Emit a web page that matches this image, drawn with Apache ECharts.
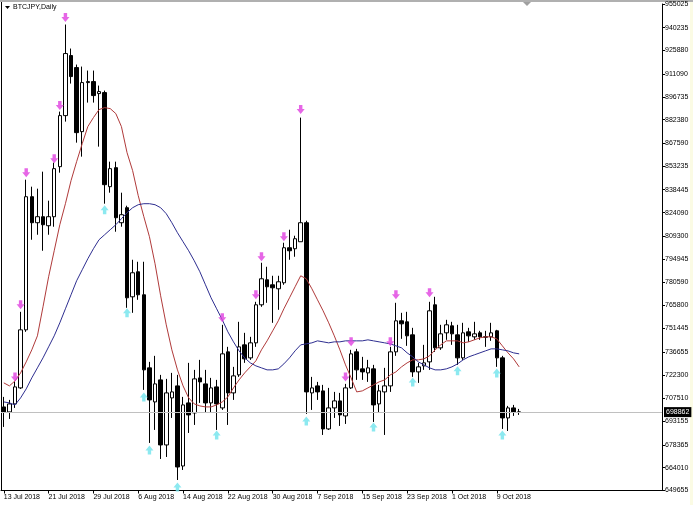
<!DOCTYPE html>
<html><head><meta charset="utf-8">
<script src="https://cdn.jsdelivr.net/npm/echarts@6/dist/echarts.min.js"></script>
<style>html,body{margin:0;padding:0;background:#fff}#c{width:693px;height:505px}</style>
</head><body><div id="c"></div>
<script>
// ---- data ----
const symbolTitle = 'BTCJPY,Daily';
const startYear = 2018, startMonth = 6, startDay = 13; // 13 Jul 2018
const totalSlots = 118; // bars + empty future space to the right
const opens = [702123,698981,704008,714061,750504,834072,817735,821505,815850,821505,
852922,884967,922667,915127,874913,905702,906330,898790,899418,840355,
852294,817735,827160,771239,786947,772496,726628,705264,719088,678246,
707778,715318,665052,704636,698353,720344,716574,704636,714689,701494,
736681,710919,722229,741079,732911,742336,766212,781921,778779,776266,
780036,802027,801399,805797,817735,710919,715318,712176,688299,701494,
705893,696468,714061,736681,725999,723486,725999,704008,711548,715318,
736681,756159,755531,747362,724114,727884,730398,766212,739194,748619,
753017,747362,732911,749247,746106,748619,746106,746106,749876,732911,
695211,701494,698981];
const closes = [698981,704008,714689,750504,834072,817735,821505,816479,821505,851665,
884967,923923,909472,874285,905702,906330,897533,900047,841612,851665,
820877,822762,770611,786319,772496,725371,706521,716574,678246,710919,
711548,664423,703379,697096,719716,717831,704636,714061,704008,735424,
710919,721601,739822,732282,742336,766212,782549,777522,776894,780664,
802027,800142,807682,817735,711548,714061,711548,688299,701494,705893,
697096,714061,735424,725371,724114,726628,703379,712176,715318,736681,
756159,754274,746734,724114,727256,729769,762442,739194,747991,753646,
747991,732911,748619,746734,747991,746106,745900,748619,732911,695211,
701494,698981,698862];
const lows = [689556,694583,701494,713433,749247,807054,810195,800142,810195,815222,
849152,881197,905073,868002,859205,893135,893135,865488,829674,836585,
812080,815222,764327,761186,769354,712804,679503,687671,669450,670706,
695211,656255,662538,685786,690813,704636,698353,698353,687671,700238,
690813,706521,720973,729769,731654,739822,764956,767469,754902,763071,
778779,794487,796372,805797,697724,700238,706521,684529,687671,695211,
690184,691441,713433,719088,719088,717831,692698,698353,684529,711548,
734168,744849,740451,720973,717203,725371,725371,736681,737938,744221,
741079,728513,731654,742964,744221,744221,739822,743592,727256,688299,
687043,696468,697096];
const highs = [708406,706521,717831,761814,844754,840355,839099,849780,831559,855435,
887480,942145,927065,917012,915755,913242,913242,903817,900675,856064,
856064,836585,828417,794487,793231,793231,730398,734168,722229,719716,
723486,722229,708406,729769,725371,731654,725371,720344,719088,753646,
739822,727256,755531,748619,746106,768097,792602,790089,784434,784434,
805169,813337,809569,883710,818992,720973,717831,715946,714061,711548,
710919,716574,737937,738566,733539,731654,728513,715946,726628,739822,
767469,761186,761814,751761,729769,741079,768097,771239,753646,756787,
755531,753646,754902,751761,755531,749876,749876,754902,750504,734168,
702751,703379,700866];
const maRed = [717203,715318,718459,723486,730398,737937,746734,764956,783806,800142,
816479,829674,844125,856064,867373,878055,883710,888737,889993,889365,
886223,878055,861719,850409,834700,821505,808939,791974,771867,753646,
737937,725371,715318,707778,704008,702751,702123,702123,703379,705264,
708406,714061,719088,723486,727256,731026,737937,743592,749876,756159,
763699,770611,777522,784434,782549,776266,769354,762442,754902,746734,
737937,728513,720344,711548,712176,714061,715946,717831,719088,722229,
724114,727256,729769,731654,731654,732282,734168,737937,741079,743592,
743592,743592,742336,742964,744221,745477,746106,746106,744849,740451,
736052,732282,727256];
const maBlue = [705264,704636,703379,707778,713433,720344,726628,732911,739822,746734,
754902,763699,772496,781292,788204,795116,801399,807054,810195,813337,
816479,820249,824019,827160,829045,829674,829674,829045,827160,823390,
817735,811452,805797,800142,793859,786947,778779,770611,763699,756787,
749247,742964,737309,732911,729769,727884,726628,725371,725371,725999,
729141,732911,737309,741079,741707,742336,743592,742964,742336,742964,
742964,743592,743592,743592,743592,744221,743592,742964,742336,741707,
740451,739194,736052,733539,730398,728513,726628,725371,725371,725999,
727256,729141,731654,733539,734796,736052,737309,738566,738566,737937,
737309,736052,735424];
const downArrowIdx = [2,3,4,9,10,11,39,45,46,50,53,61,62,69,70,76];
const downArrowVal = [720973,766212,849152,857949,891250,946543,758044,772496,796372,808939,888737,720973,742964,742964,772496,773752];
const upArrowIdx = [18,22,25,26,31,38,54,66,73,81,88,89];
const upArrowVal = [825904,761186,708406,675104,651856,684529,693326,689556,717831,724743,723486,684529];
const yTicks = [955025,940235,925880,911090,896735,882380,867590,853235,838445,824090,809300,
794945,780590,765800,751445,736655,722300,707510,693155,678365,664010,649655];
const lastPrice = 698862;
const xLabelEvery = 8;

// ---- build ----
const monthNames = ['Jan','Feb','Mar','Apr','May','Jun','Jul','Aug','Sep','Oct','Nov','Dec'];
const categories = [];
for (let i = 0; i < totalSlots; i++) {
  const d = new Date(Date.UTC(startYear, startMonth, startDay + i));
  categories.push(d.getUTCDate() + ' ' + monthNames[d.getUTCMonth()] + ' ' + d.getUTCFullYear());
}
const candles = opens.map((o, i) => [o, closes[i], lows[i], highs[i]]);
const showX = (i) => i % xLabelEvery === 0 && i < opens.length;
const FONT = 'Liberation Sans';
const FS = 7;
const downPath = 'path://M2,0 L5,0 L5,4 L7,4 L3.5,9 L0,4 L2,4 Z';
const upPath = 'path://M3.5,0 L7,5 L5,5 L5,9 L2,9 L2,5 L0,5 Z';

const chart = echarts.init(document.getElementById('c'), null, {renderer: 'canvas'});
chart.setOption({
  animation: false,
  backgroundColor: '#ffffff',
  grid: {left: 1, right: 31, top: 4, bottom: 14.5},
  xAxis: {
    type: 'category', data: categories, boundaryGap: true,
    axisLine: {show: true, lineStyle: {color: '#000', width: 1}},
    axisTick: {show: true, interval: showX, length: 3, alignWithLabel: true, lineStyle: {color: '#000'}},
    axisLabel: {interval: showX, align: 'left', margin: 3, fontSize: FS, color: '#000', fontFamily: FONT},
    splitLine: {show: false}
  },
  yAxis: {
    type: 'value', position: 'right', min: yTicks[yTicks.length - 1], max: yTicks[0],
    axisLine: {show: true, onZero: false, lineStyle: {color: '#000', width: 1}},
    axisTick: {show: true, length: 3, lineStyle: {color: '#000'}, customValues: yTicks},
    axisLabel: {margin: 3, fontSize: FS, color: '#000', fontFamily: FONT, customValues: yTicks,
      formatter: (v) => String(Math.round(v))},
    splitLine: {show: false}
  },
  graphic: [
    {type: 'rect', shape: {x: 0, y: 0, width: 693, height: 2}, style: {fill: '#b0b0b0'}, silent: true},
    {type: 'rect', shape: {x: 690, y: 2, width: 3, height: 503}, style: {fill: '#fbfbe4'}, silent: true},
    {type: 'line', shape: {x1: 1.5, y1: 2, x2: 1.5, y2: 491}, style: {stroke: '#000', lineWidth: 1}, silent: true},
    {type: 'polygon', shape: {points: [[5, 6], [10, 6], [7.5, 9]]}, style: {fill: '#000'}, silent: true},
    {type: 'polygon', shape: {points: [[523, 2], [531, 2], [527, 6]]}, style: {fill: '#a0a0a0'}, silent: true},
    {type: 'text', left: 13, top: 4, style: {text: symbolTitle, fontSize: FS, fill: '#000', fontFamily: FONT}, silent: true}
  ],
  series: [
    {
      type: 'candlestick', name: 'BTCJPY', data: candles, barWidth: 4,
      itemStyle: {color: '#ffffff', color0: '#000000', borderColor: '#000000', borderColor0: '#000000', borderColorDoji: '#000000', borderWidth: 1},
      markLine: {
        silent: true, symbol: ['none', 'none'],
        data: [{yAxis: lastPrice}],
        lineStyle: {color: '#c0c0c0', width: 1, type: 'solid'},
        label: {show: true, position: 'end', distance: 2, formatter: String(lastPrice), backgroundColor: '#000', color: '#fff', fontSize: FS, fontFamily: FONT, padding: [2, 2, 1, 2]},
        emphasis: {disabled: true}
      },
      z: 2
    },
    {type: 'line', name: 'MA fast', data: maRed, showSymbol: false, symbol: 'none', lineStyle: {color: '#b03a3a', width: 1}, z: 3},
    {type: 'line', name: 'MA slow', data: maBlue, showSymbol: false, symbol: 'none', lineStyle: {color: '#2e2e90', width: 1}, z: 3},
    {type: 'scatter', name: 'Fractal up', data: downArrowIdx.map((d, i) => [d, downArrowVal[i]]), symbol: downPath, symbolSize: [8, 9], itemStyle: {color: '#e040e0'}, z: 4},
    {type: 'scatter', name: 'Fractal down', data: upArrowIdx.map((d, i) => [d, upArrowVal[i]]), symbol: upPath, symbolSize: [8, 9], itemStyle: {color: '#6fe4ec'}, z: 4}
  ]
});
</script></body></html>
